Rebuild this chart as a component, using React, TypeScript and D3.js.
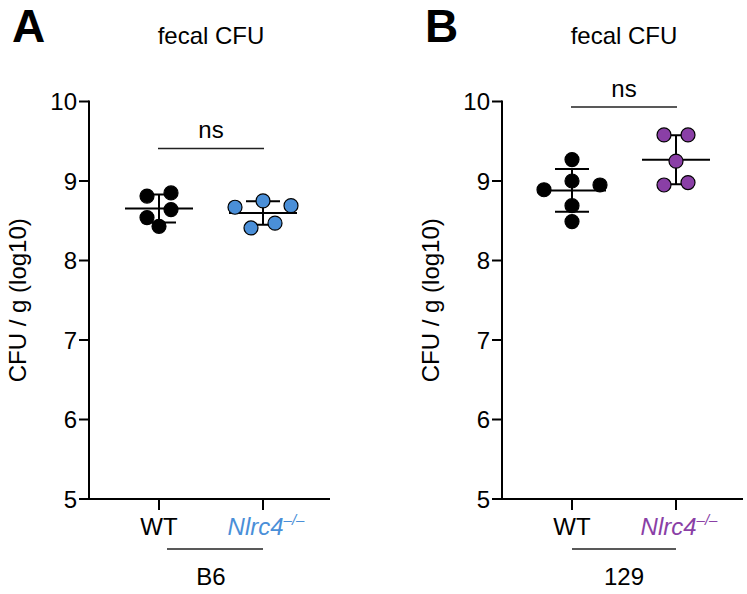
import React from 'react';
import * as d3 from 'd3';

// values (log10 CFU / g)
const PANEL_LETTERS = ['A', 'B'];
const STRAINS = ['B6', '129'];
const GROUPS = ['WT', 'Nlrc4'];
const WT_A = [8.85, 8.81, 8.64, 8.54, 8.43];
const KO_A = [8.75, 8.69, 8.67, 8.47, 8.41];
const WT_B = [9.27, 9.0, 8.95, 8.89, 8.69, 8.49];
const KO_B = [9.58, 9.58, 9.25, 8.98, 8.95];
const NS_LEVEL = [9.41, 9.93];
const Y_TICKS = [5, 6, 7, 8, 9, 10];

const KO_COLORS = ['#4a8fd8', '#8a3fa6'];
const FONT = '"Liberation Sans", Arial, Helvetica, sans-serif';
const FS = 24;

const W = 747;
const H = 594;
const TOP = 101.5;
const BOTTOM = 499;
const PANEL_OFFSET = [89, 502];

const y = d3.scaleLinear().domain([5, 10]).range([BOTTOM, TOP]);

// Prism-like dot layout: bin nearby values into rows, spread each row around the centre
function swarm(values: number[]) {
  const sorted = values.map((v, i) => ({ v, i })).sort((a, b) => b.v - a.v);
  const rows: { v: number; i: number }[][] = [];
  sorted.forEach(p => {
    const row = rows[rows.length - 1];
    if (row && y(p.v) - y(row[0].v) < 12) row.push(p);
    else rows.push([p]);
  });
  const out: { v: number; dx: number }[] = [];
  rows.forEach(row => {
    const n = row.length;
    row.forEach((p, k) => {
      let dx: number;
      if (n % 2 === 1) {
        const step = Math.ceil(k / 2);
        dx = k === 0 ? 0 : (k % 2 === 1 ? 1 : -1) * step * 28;
      } else {
        const step = Math.floor(k / 2) * 2 + 1;
        dx = (k % 2 === 0 ? 1 : -1) * step * 12;
      }
      out.push({ v: p.v, dx });
    });
  });
  return out;
}

const Panel: React.FC<{ idx: number; wt: number[]; ko: number[] }> = ({ idx, wt, ko }) => {
  const x0 = PANEL_OFFSET[idx];
  const xEnd = x0 + 241;
  const x = d3.scalePoint<string>().domain(GROUPS).range([x0 + 70, x0 + 174]);
  const koColor = KO_COLORS[idx];
  const series = [
    { key: 'WT', values: wt, fill: '#000' },
    { key: 'Nlrc4', values: ko, fill: koColor },
  ];
  const cx0 = x('WT')!;
  const cx1 = x('Nlrc4')!;
  const midX = (cx0 + cx1) / 2;
  const nsY = y(NS_LEVEL[idx]);

  return (
    <g fontFamily={FONT}>
      <text x={x0 - 77} y={42} fontSize={46} fontWeight="bold">{PANEL_LETTERS[idx]}</text>
      <text x={midX} y={44} fontSize={FS} textAnchor="middle">fecal CFU</text>

      {/* y axis */}
      <line x1={x0} x2={x0} y1={TOP - 1} y2={BOTTOM + 1} stroke="#000" strokeWidth={2} />
      {Y_TICKS.map(t => (
        <g key={t}>
          <line x1={x0 - 10} x2={x0} y1={y(t)} y2={y(t)} stroke="#000" strokeWidth={2} />
          <text x={x0 - 12} y={y(t) + 8.5} fontSize={FS} textAnchor="end">{t}</text>
        </g>
      ))}
      <text
        transform={`translate(${x0 - 63},${(TOP + BOTTOM) / 2}) rotate(-90)`}
        fontSize={FS}
        textAnchor="middle"
      >
        CFU / g (log10)
      </text>

      {/* x axis */}
      <line x1={x0} x2={xEnd} y1={BOTTOM} y2={BOTTOM} stroke="#000" strokeWidth={2} />
      {GROUPS.map(gk => (
        <line key={gk} x1={x(gk)} x2={x(gk)} y1={BOTTOM} y2={BOTTOM + 11} stroke="#000" strokeWidth={2} />
      ))}
      <text x={cx0} y={535} fontSize={FS} textAnchor="middle">WT</text>
      <text x={cx1 + 3} y={535} fontSize={FS} textAnchor="middle" fill={koColor} fontStyle="italic">
        Nlrc4<tspan fontSize={15} dy={-10}>–/–</tspan>
      </text>
      <line x1={cx0 + (idx === 0 ? 8 : 0)} x2={cx1} y1={549} y2={549} stroke="#222" strokeWidth={1.5} />
      <text x={midX} y={585} fontSize={FS} textAnchor="middle">{STRAINS[idx]}</text>

      {/* significance bracket */}
      <line x1={cx0 - 1} x2={cx1 + 1} y1={nsY} y2={nsY} stroke="#222" strokeWidth={1.5} />
      <text x={midX} y={nsY - 10} fontSize={FS} textAnchor="middle">ns</text>

      {/* mean ± SD and points */}
      {series.map(s => {
        const cx = x(s.key)!;
        const m = d3.mean(s.values)!;
        const sd = d3.deviation(s.values)!;
        return (
          <g key={s.key}>
            <line x1={cx} x2={cx} y1={y(m + sd)} y2={y(m - sd)} stroke="#000" strokeWidth={2} />
            <line x1={cx - 17} x2={cx + 17} y1={y(m + sd)} y2={y(m + sd)} stroke="#000" strokeWidth={2} />
            <line x1={cx - 17} x2={cx + 17} y1={y(m - sd)} y2={y(m - sd)} stroke="#000" strokeWidth={2} />
            <line x1={cx - 34} x2={cx + 34} y1={y(m)} y2={y(m)} stroke="#000" strokeWidth={2} />
            {swarm(s.values).map((p, i) => (
              <circle key={i} cx={cx + p.dx} cy={y(p.v)} r={7} fill={s.fill} stroke="#000" strokeWidth={1.2} />
            ))}
          </g>
        );
      })}
    </g>
  );
};

export default function App() {
  return (
    <svg
      width={W}
      height={H}
      viewBox={`0 0 ${W} ${H}`}
      style={{ position: 'absolute', left: 0, top: 0, background: '#fff' }}
    >
      <rect width={W} height={H} fill="#fff" />
      <Panel idx={0} wt={WT_A} ko={KO_A} />
      <Panel idx={1} wt={WT_B} ko={KO_B} />
    </svg>
  );
}
